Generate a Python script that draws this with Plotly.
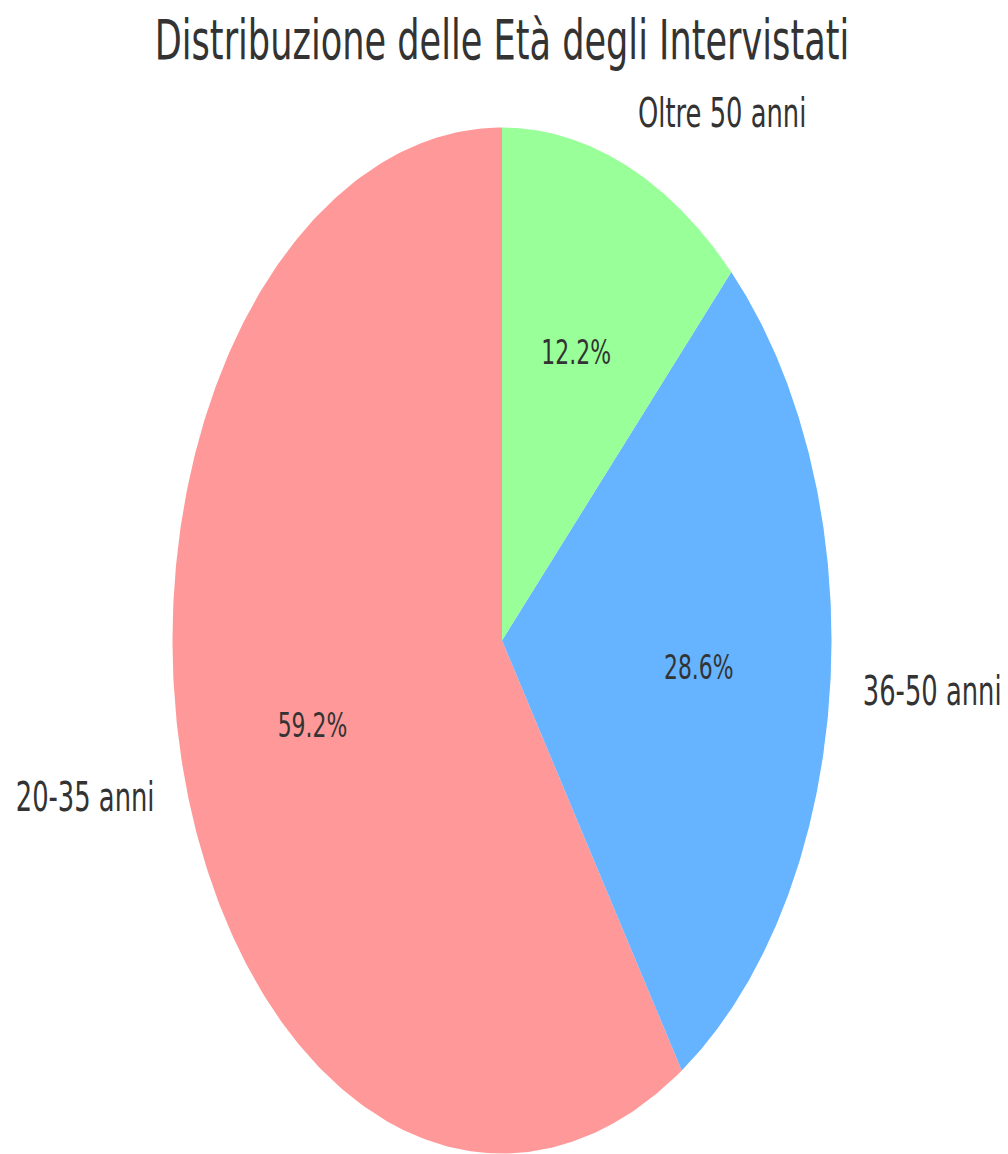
import numpy as np
import plotly.graph_objects as go

# Age groups of the respondents (counts)
categories = ["20-35 anni", "36-50 anni", "Oltre 50 anni"]
counts = [29, 14, 6]
colors = ["#ff9999", "#66b3ff", "#99ff99"]

title_text = "Distribuzione delle Età degli Intervistati"
text_color = "#333333"

W, H = 1008, 1154
cx_px, cy_px = 502, 640.5        # pie centre in pixels
rx_px, ry_px = 329.5, 513        # horizontal / vertical radius in pixels
start_angle = 90.0               # first wedge starts at 12 o'clock, counter-clockwise
label_dist = 1.1
pct_dist = 0.6

total = float(sum(counts))
fracs = [c / total for c in counts]

fig = go.Figure()

theta0 = np.deg2rad(start_angle)
label_x, label_y, label_pos = [], [], []
pct_x, pct_y, pct_text = [], [], []
for cat, frac, col in zip(categories, fracs, colors):
    theta1 = theta0 + 2 * np.pi * frac
    t = np.linspace(theta0, theta1, 300)
    xs = np.concatenate([[0.0], np.cos(t), [0.0]])
    ys = np.concatenate([[0.0], np.sin(t), [0.0]])
    fig.add_trace(go.Scatter(
        x=xs, y=ys, mode="lines", fill="toself", fillcolor=col,
        line=dict(width=0, color=col), hoverinfo="skip", showlegend=False,
    ))
    mid = 0.5 * (theta0 + theta1)
    lx, ly = label_dist * np.cos(mid), label_dist * np.sin(mid)
    label_x.append(lx)
    label_y.append(ly)
    label_pos.append("middle right" if lx > 0 else "middle left")
    pct_x.append(pct_dist * np.cos(mid))
    pct_y.append(pct_dist * np.sin(mid))
    pct_text.append(f"{frac * 100:.1f}%")
    theta0 = theta1

# category labels outside the pie
fig.add_trace(go.Scatter(
    x=label_x, y=label_y, mode="text", text=categories,
    textposition=label_pos,
    textfont=dict(family="DejaVu Sans", size=40, color=text_color),
    hoverinfo="skip", showlegend=False,
))
# percentage labels inside the wedges
fig.add_trace(go.Scatter(
    x=pct_x, y=pct_y, mode="text", text=pct_text,
    textposition="middle center",
    textfont=dict(family="DejaVu Sans", size=34, color=text_color),
    hoverinfo="skip", showlegend=False,
))

fig.update_layout(
    width=W, height=H,
    margin=dict(l=0, r=0, t=0, b=0),
    paper_bgcolor="white", plot_bgcolor="white",
    title=dict(
        text=title_text, x=cx_px / W, xanchor="center",
        y=1 - 40 / H, yanchor="middle",
        font=dict(family="DejaVu Sans", size=54.5, color=text_color),
    ),
    xaxis=dict(
        range=[-cx_px / rx_px, (W - cx_px) / rx_px],
        visible=False, fixedrange=True,
    ),
    yaxis=dict(
        range=[-(H - cy_px) / ry_px, cy_px / ry_px],
        visible=False, fixedrange=True,
    ),
)

# narrow the glyphs horizontally to follow the pie's aspect
css = (
    ".js-plotly-plot svg text{transform-box:fill-box;transform:scaleX(0.645);"
    "transform-origin:center center;}"
    ".js-plotly-plot svg text[text-anchor='start']{transform-origin:left center;}"
    ".js-plotly-plot svg text[text-anchor='end']{transform-origin:right center;}"
)
post_js = (
    "var s=document.createElement('style');"
    f"s.textContent=\"{css}\";"
    "document.head.appendChild(s);"
)

fig.write_html("out.html", config={"displayModeBar": False}, post_script=post_js)
